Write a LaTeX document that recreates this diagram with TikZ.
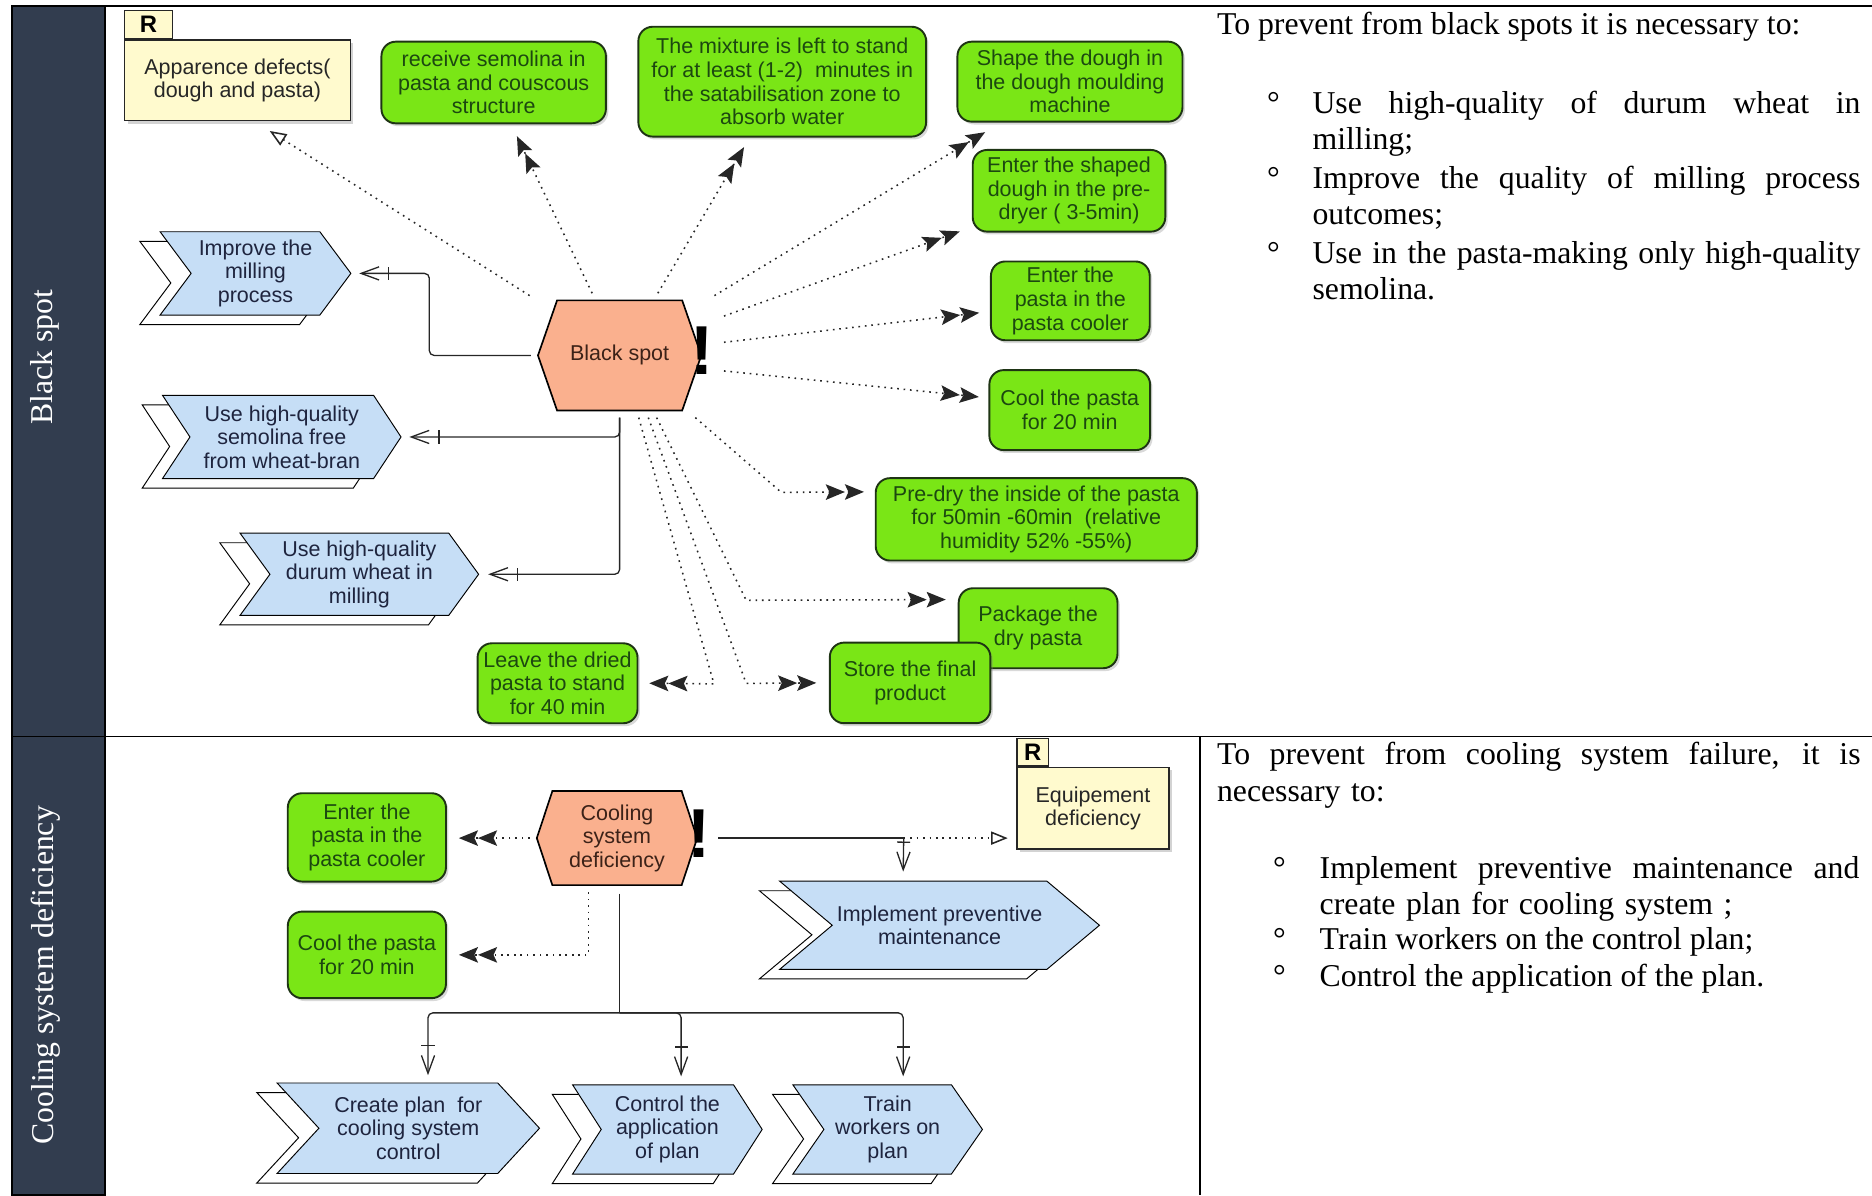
\documentclass[tikz,border=0pt]{standalone}
\usepackage{fontspec}
\setmainfont{Liberation Serif}
\newfontfamily\arisfont{Liberation Sans}
\usetikzlibrary{arrows.meta,shadows,backgrounds}

\definecolor{sidebar}{RGB}{50,61,79}
\definecolor{actgreen}{RGB}{122,230,22}
\definecolor{actline}{RGB}{30,52,20}
\definecolor{fnblue}{RGB}{198,222,246}
\definecolor{evsalmon}{RGB}{250,176,142}
\definecolor{riskyellow}{RGB}{255,250,206}
\definecolor{txtgreen}{RGB}{28,72,16}
\definecolor{txtblue}{RGB}{30,36,62}
\definecolor{txtbrown}{RGB}{60,34,24}

\newcommand{\unitlen}{0.5pt}
\newcommand{\stackdx}{-17}
\newcommand{\stackdy}{8}
%A justified line of a given width (the node's align resets the word spacing)
\newcommand{\spreadline}[2]{\makebox[#1][s]{\spaceskip=0.25em plus 2em\relax #2}}

%Chevron of a function node with its stacked copy behind (#2 = depth of the point)
\newcommand{\fnstack}[2]{%
	\draw[fill=white] ([shift={(\stackdx-#2,\stackdy)}]#1.north west) -- ([shift={(\stackdx,\stackdy)}]#1.north east) -- ([shift={(\stackdx+#2,\stackdy)}]#1.east) -- ([shift={(\stackdx,\stackdy)}]#1.south east) -- ([shift={(\stackdx-#2,\stackdy)}]#1.south west) -- ([shift={(\stackdx,\stackdy)}]#1.west) -- cycle;
	\draw[fill=fnblue] ([shift={(-#2,0)}]#1.north west) -- (#1.north east) -- ([shift={(#2,0)}]#1.east) -- (#1.south east) -- ([shift={(-#2,0)}]#1.south west) -- (#1.west) -- cycle;
}
%Hexagon of an event node (#2 = size of the cut corners)
\newcommand{\evshape}[2]{%
	\draw[fill=evsalmon,line width=0.7pt] (#1.west) -- ([shift={(#2,0)}]#1.north west) -- ([shift={(-#2,0)}]#1.north east) -- (#1.east) -- ([shift={(-#2,0)}]#1.south east) -- ([shift={(#2,0)}]#1.south west) -- cycle;
}

\tikzset{
	boxsize/.style 2 args={minimum width=#1*\unitlen,minimum height=#2*\unitlen},
	diagram/.style={font=\arisfont\fontsize{9}{9.9}\selectfont,align=center,inner sep=0pt},
	actbox/.style={diagram,draw=actline,fill=actgreen,text=txtgreen,rounded corners=6pt,line width=0.8pt,
		drop shadow={shadow xshift=1pt,shadow yshift=-1.2pt,opacity=0.3}},
	riskbox/.style={diagram,draw=black!85,fill=riskyellow,text=black!85,line width=0.65pt,
		drop shadow={shadow xshift=1.2pt,shadow yshift=-1.2pt,opacity=0.35}},
	risktab/.style={draw=black!85,fill=riskyellow,line width=0.65pt,inner sep=0pt,
		font=\arisfont\bfseries\fontsize{10}{10}\selectfont},
	fnbox/.style={diagram,text=txtblue},
	evbox/.style={diagram,text=txtbrown},
	alertmark/.style={inner sep=0pt,font=\arisfont\bfseries\fontsize{29}{29}\selectfont},
	sidelabel/.style={rotate=90,anchor=base,text=white,inner sep=0pt,font=\fontsize{13.3}{15}\selectfont},
	notetext/.style={anchor=base west,inner sep=0pt,font=\fontsize{13.3}{15.25}\selectfont},
	noteitem/.style={notetext,text width=#1,align=left},
	link/.style={line width=0.55pt,black!85},
	dotlink/.style={link,line width=0.65pt,dash pattern=on 0.7pt off 2pt},
	twohead/.style={-{Stealth[length=8pt,width=6.5pt,inset=1.5pt,sep=0pt]Stealth[length=8pt,width=6.5pt,inset=1.5pt]}},
	openhead/.style={-{Triangle[length=7pt,width=5.5pt,fill=white]}},
	barhead/.style={-{Bar[width=5.5pt,sep=3.5pt]Straight Barb[length=7.5pt,width=5.5pt]}}
}

\begin{document}
\begin{tikzpicture}[x=\unitlen,y=-\unitlen]
	\useasboundingbox (0,0) rectangle (1568,1001);
	%Draw the table frame and the row headings
	\draw[fill=sidebar,line width=0.85pt] (10,5) rectangle (88,1001);
	\draw[line width=0.7pt] (88,5) -- (1568,5) (10,617) -- (1568,617) (1005,617) -- (1005,1001);
	\node[sidelabel] (rowspot) at (44,299) {Black spot};
	\node[sidelabel] (rowcool) at (45,817) {Cooling system deficiency};

	%Black spot: the event, its risk and the steps round it
	\node[evbox,boxsize={136}{91.4}] (blackspot) at (519,297.7) {Black spot};
	\node[alertmark] (spotmark) at (588,294) {!};
	\node[riskbox,boxsize={189}{67.5}] (defects) at (198.9,67.3) {Apparence defects(\\dough and pasta)};
	\node[risktab,boxsize={40}{23.5},anchor=south west] (defectstab) at (defects.north west) {R};
	\node[actbox,boxsize={188}{68.4}] (semolina) at (413.5,69.1) {receive semolina in\\pasta and couscous\\structure};
	\node[actbox,boxsize={241}{92}] (mixture) at (655.2,68.4) {The mixture is left to stand\\for at least (1-2)~ minutes in\\the satabilisation zone to\\absorb water};
	\node[actbox,boxsize={188.5}{67}] (shaping) at (896.2,68.4) {Shape the dough in\\the dough moulding\\machine};
	\node[actbox,boxsize={161.3}{68.4}] (predryer) at (895.4,159.8) {Enter the shaped\\dough in the pre-\\dryer ( 3-5min)};
	\node[actbox,boxsize={133}{66}] (cooler) at (896.5,252) {Enter the\\pasta in the\\pasta cooler};
	\node[actbox,boxsize={134.6}{67}] (cooling) at (896,343.5) {Cool the pasta\\for 20 min};
	\node[actbox,boxsize={269}{69}] (inside) at (868,435) {Pre-dry the inside of the pasta\\for 50min -60min~ (relative\\humidity 52\% -55\%)};
	\node[actbox,boxsize={133}{67}] (package) at (869.5,526.2) {Package the\\dry pasta};
	\node[actbox,boxsize={134.5}{67.5}] (store) at (762.3,572) {Store the final\\product};
	\node[actbox,boxsize={134}{67}] (leave) at (467,572.3) {Leave the dried\\pasta to stand\\for 40 min};
	\node[fnbox,boxsize={107}{69}] (milling) at (214,229) {Improve the\\milling\\process};
	\node[fnbox,boxsize={153}{69}] (semq) at (236,366) {Use high-quality\\semolina free\\from wheat-bran};
	\node[fnbox,boxsize={149}{68}] (durum) at (301,481) {Use high-quality\\durum wheat in\\milling};

	%Cooling system deficiency
	\node[evbox,boxsize={133.5}{78}] (coolfail) at (516.8,702) {Cooling\\system\\deficiency};
	\node[alertmark] (coolmark) at (585.7,698) {!};
	\node[riskbox,boxsize={127.5}{68.6}] (equip) at (915.5,677) {Equipement\\deficiency};
	\node[risktab,boxsize={26.6}{23},anchor=south west] (equiptab) at (equip.north west) {R};
	\node[actbox,boxsize={132.5}{74}] (cooler2) at (307.3,701.4) {Enter the\\pasta in the\\pasta cooler};
	\node[actbox,boxsize={132.5}{72.5}] (cooling2) at (307.3,799.8) {Cool the pasta\\for 20 min};
	\node[fnbox,boxsize={179}{73}] (maint) at (787,775) {Implement preventive\\maintenance};
	\node[fnbox,boxsize={149}{75}] (plan) at (342,945) {Create plan~ for\\cooling system\\control};
	\node[fnbox,boxsize={110}{74}] (apply) at (559,946) {Control the\\application\\of plan};
	\node[fnbox,boxsize={106}{74}] (train) at (743.5,946) {Train\\workers on\\plan};

	%Draw the function chevrons and the event hexagons behind their text
	\begin{scope}[on background layer,line width=0.55pt,draw=black!85]
		\fnstack{milling}{26}
		\fnstack{semq}{23}
		\fnstack{durum}{25}
		\fnstack{maint}{44}
		\fnstack{plan}{35}
		\fnstack{apply}{24}
		\fnstack{train}{26}
		\evshape{blackspot}{16}
		\evshape{coolfail}{13}
	\end{scope}

	%Dotted links out of the black spot
	\begin{scope}[dotlink,twohead]
		\draw[openhead] ([shift={(-7,-4)}]blackspot.north west) -- ([shift={(27,8)}]defects.south);
		\draw ([shift={(-23,-6)}]blackspot.north) -- ([shift={(19.5,10)}]semolina.south);
		\draw ([shift={(32,-6)}]blackspot.north) -- ([shift={(-32,8)}]mixture.south);
		\draw ([shift={(11,-4)}]blackspot.north east) -- ([shift={(24,8)}]shaping.south west);
		\draw ([shift={(19,-33)}]blackspot.east) -- ([shift={(-10,-1)}]predryer.south west);
		\draw ([shift={(19,-11)}]blackspot.east) -- ([shift={(-9,10)}]cooler.west);
		\draw ([shift={(19,13)}]blackspot.east) -- ([shift={(-8,-11)}]cooling.west);
		\draw ([shift={(-5,6)}]blackspot.south east) -- ++(72,62.6) -- ([shift={(-9,-23)}]inside.west);
		\draw ([shift={(31,6)}]blackspot.south) -- ++(75,153) -- ([shift={(-10,-24)}]package.west);
		\draw ([shift={(24,6)}]blackspot.south) -- ++(82,222.6) -- ([shift={(-10.5,0)}]store.west);
		\draw ([shift={(16,6)}]blackspot.south) -- ++(63,223) -- ([shift={(9,0)}]leave.east);
	\end{scope}
	%Solid links to the improvement functions
	\begin{scope}[link,barhead,rounded corners=2pt]
		\draw ([xshift=-3pt]blackspot.west) -- ++(-85,0) |- ([shift={(33,0)}]milling.east);
		\draw ([yshift=-3pt]blackspot.south) |- ([shift={(30,0)}]semq.east);
		\draw ([yshift=-3pt]blackspot.south) |- ([shift={(33,0)}]durum.east);
	\end{scope}

	%Links out of the cooling system deficiency
	\begin{scope}[dotlink,twohead]
		\draw ([xshift=-3pt]coolfail.west) -- ([shift={(10,0.6)}]cooler2.east);
		\draw ([shift={(-24,6)}]coolfail.south) |- ([xshift=5pt]cooling2.east);
	\end{scope}
	\coordinate (split) at ([shift={(173,0)}]coolfail.east);
	\coordinate (fork) at ([shift={(2,107)}]coolfail.south);
	\draw[link] ([xshift=8.75pt]coolfail.east) -- (split);
	\draw[dotlink,openhead] (split) -- ([shift={(-7,25)}]equip.west);
	\draw[link,barhead] (split) -- ([shift={(-30.5,-8)}]maint.north);
	\draw[link] ([shift={(2,7)}]coolfail.south) -- (fork);
	\begin{scope}[link,barhead,rounded corners=2pt]
		\draw (fork) -| ([shift={(16.5,-6.5)}]plan.north);
		\draw (fork) -| ([shift={(11.5,-7)}]apply.north);
		\draw (fork) -| ([shift={(13,-7)}]train.north);
	\end{scope}

	%Recommendations in the right column
	\node[notetext] (spotlead) at (1019,29.3) {To prevent from black spots it is necessary to:};
	\node[notetext] (spotdot1) at (1061,95) {°};
	\node[noteitem=240pt] (spotitem1) at (1099,95) {\spreadline{229.5pt}{Use high-quality of durum wheat in}\\milling;};
	\node[notetext] (spotdot2) at (1061,157.7) {°};
	\node[noteitem=240pt] (spotitem2) at (1099,157.7) {\spreadline{229.5pt}{Improve the quality of milling process}\\outcomes;};
	\node[notetext] (spotdot3) at (1061,220.5) {°};
	\node[noteitem=240pt] (spotitem3) at (1099,220.5) {\spreadline{229.5pt}{Use in the pasta-making only high-quality}\\semolina.};
	\node[noteitem=280pt] (coollead) at (1019,640.7) {\spreadline{269.5pt}{To prevent from cooling system failure, it is}\\necessary to:};
	\node[notetext] (cooldot1) at (1066,735.6) {°};
	\node[noteitem=240pt] (coolitem1) at (1105,735.6) {\spreadline{226pt}{Implement preventive maintenance and}\\create plan for cooling system ;};
	\node[notetext] (cooldot2) at (1066,795.6) {°};
	\node[notetext] (coolitem2) at (1105,795.6) {Train workers on the control plan;};
	\node[notetext] (cooldot3) at (1066,826.4) {°};
	\node[notetext] (coolitem3) at (1105,826.4) {Control the application of the plan.};
\end{tikzpicture}
\end{document}
